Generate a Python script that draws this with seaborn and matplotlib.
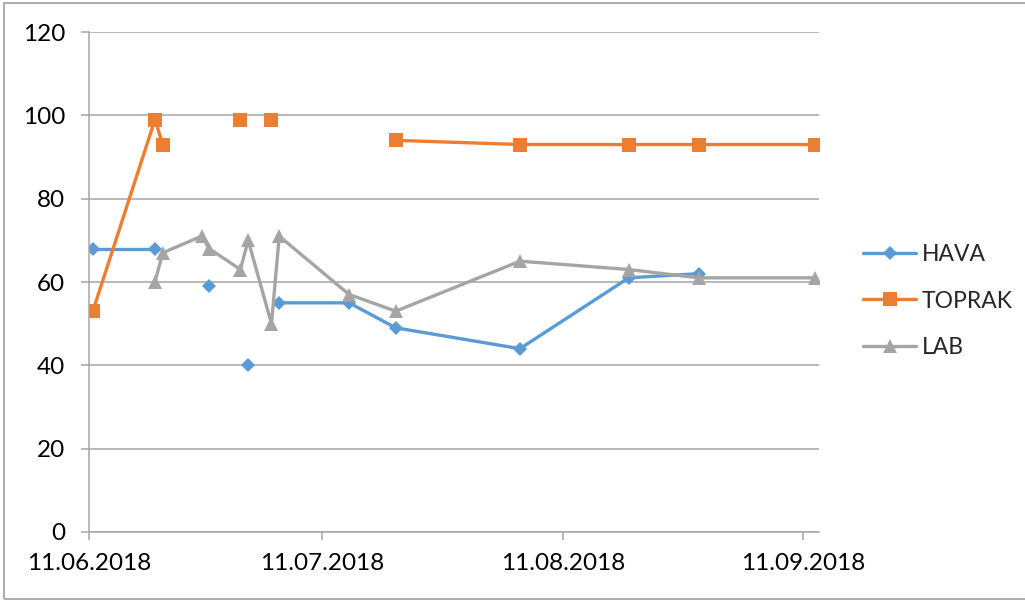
import numpy as np
import pandas as pd
import matplotlib
matplotlib.use("Agg")
import matplotlib.pyplot as plt
import matplotlib.dates as mdates
from matplotlib.lines import Line2D
import seaborn as sns

# measurement dates (dd.mm.yyyy)
dates = ["11.06.2018", "19.06.2018", "20.06.2018", "25.06.2018", "26.06.2018",
         "30.06.2018", "01.07.2018", "04.07.2018", "05.07.2018", "14.07.2018",
         "20.07.2018", "05.08.2018", "19.08.2018", "28.08.2018", "12.09.2018"]

hava = [68, 68, np.nan, np.nan, 59, np.nan, 40, np.nan, 55, 55, 49, 44, 61, 62, np.nan]
toprak = [53, 99, 93, np.nan, np.nan, 99, np.nan, 99, np.nan, np.nan, 94, 93, 93, 93, 93]
lab = [np.nan, 60, 67, 71, 68, 63, 70, 50, 71, 57, 53, 65, 63, 61, 61]

series_names = ["HAVA", "TOPRAK", "LAB"]
colors = {"HAVA": "#5B9BD5", "TOPRAK": "#ED7D31", "LAB": "#A5A5A5"}
markers = {"HAVA": "D", "TOPRAK": "s", "LAB": "^"}
msizes = {"HAVA": 7, "TOPRAK": 9.5, "LAB": 9.5}

y_ticks = [0, 20, 40, 60, 80, 100, 120]
x_ticks = ["11.06.2018", "11.07.2018", "11.08.2018", "11.09.2018"]

sns.set_style("white")
plt.rcParams["font.family"] = ["Lato", "DejaVu Sans"]

# long table, Excel draws a date point at the middle of its day
df = pd.DataFrame({"date": pd.to_datetime(dates, format="%d.%m.%Y"),
                   "HAVA": hava, "TOPRAK": toprak, "LAB": lab})
df["date"] = df["date"] + pd.Timedelta(hours=12)
long = df.melt(id_vars="date", var_name="series", value_name="value")

fig = plt.figure(figsize=(10.25, 6.02), dpi=100)
ax = fig.add_axes([0.0868, 0.1163, 0.7122, 0.8305])

grid_c = "#A6A6A6"
for name in series_names:
    sub = long[long["series"] == name].reset_index(drop=True)
    # break lines at empty cells: each run of values gets its own unit
    sub["seg"] = sub["value"].isna().cumsum()
    sub = sub.dropna()
    sns.lineplot(data=sub, x="date", y="value", units="seg", estimator=None,
                 color=colors[name], marker=markers[name], markersize=msizes[name],
                 markeredgewidth=0, linewidth=2.4, ax=ax, legend=False, sort=False)

ax.set_ylim(0, 120)
ax.set_yticks(y_ticks)
ax.set_xlim(pd.Timestamp("2018-06-11"), pd.Timestamp("2018-09-13"))
ax.set_xticks(pd.to_datetime(x_ticks, format="%d.%m.%Y"))
ax.xaxis.set_major_formatter(mdates.DateFormatter("%d.%m.%Y"))
ax.set_xlabel("")
ax.set_ylabel("")

ax.grid(axis="y", color=grid_c, linewidth=1.1)
ax.set_axisbelow(True)
for s in ["top", "right"]:
    ax.spines[s].set_visible(False)
for s in ["left", "bottom"]:
    ax.spines[s].set_color(grid_c)
    ax.spines[s].set_linewidth(1.1)
ax.tick_params(axis="both", which="major", direction="out", length=6, width=1.1,
               color=grid_c, labelsize=17.5, labelcolor="black")
ax.tick_params(axis="y", pad=11)
ax.tick_params(axis="x", pad=9)
ax.tick_params(left=True, bottom=True)

handles = [Line2D([], [], color=colors[n], marker=markers[n], markersize=msizes[n],
                  markeredgewidth=0, linewidth=2.4) for n in series_names]
fig.legend(handles, series_names, loc="center left", bbox_to_anchor=(0.822, 0.5),
           frameon=False, fontsize=16.5, handlelength=2.3, handletextpad=0.25,
           labelspacing=1.1)

# chart border (right side runs off the picture)
fig.add_artist(plt.Rectangle((0.004, 0.005), 1.2, 0.99, transform=fig.transFigure,
                             fill=False, edgecolor="#A6A6A6", linewidth=1.3))

fig.savefig("out.png", dpi=100)
